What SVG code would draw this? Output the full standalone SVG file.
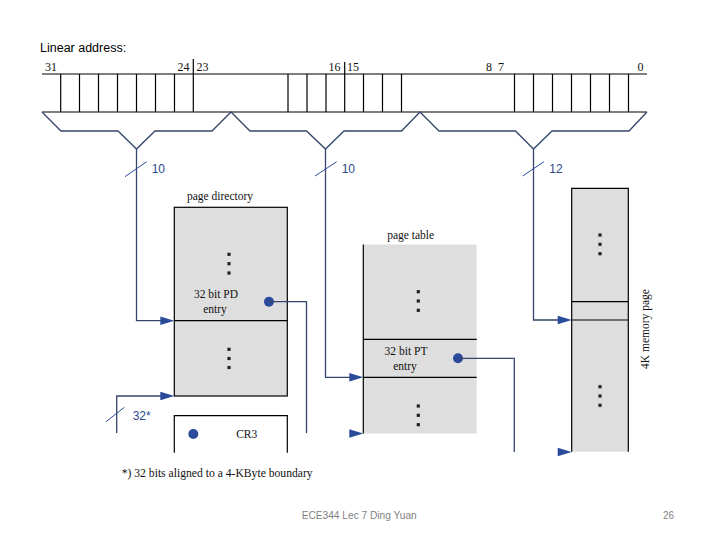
<svg xmlns="http://www.w3.org/2000/svg" width="720" height="540" viewBox="0 0 720 540">
<style>
.bit{stroke:#000;stroke-width:1.2;fill:none}
.con{stroke:#34466b;stroke-width:1.3;fill:none}
.tick{stroke:#2a4a9a;stroke-width:1;fill:none}
.box{stroke:#000;stroke-width:1.2}
.gray{fill:#dedede}
.ser{font-family:"Liberation Serif","Times New Roman",serif;font-size:11.5px;fill:#111}
.num{font-family:"Liberation Serif","Times New Roman",serif;font-size:12px;fill:#111}
.lab{font-family:"Liberation Sans",Arial,sans-serif;font-size:12px;fill:#2a4a8a}
.foot{font-family:"Liberation Sans",Arial,sans-serif;font-size:10px;fill:#7f7f7f}
.dot{fill:#222}
.pin{fill:#2a4a9a}
</style>
<defs>
<path id="ah" d="M-14,-4.2 L0,0 L-14,4.2 Z" fill="#2a4a9a"/>
<rect id="sq" x="-1.6" y="-1.6" width="3.2" height="3.2" fill="#222"/>
</defs>

<g id="title">
<text x="40" y="52" font-family="'Liberation Sans',Arial,sans-serif" font-size="12.5" fill="#000">Linear address:</text>
</g>

<g id="linear-address">
<path class="bit" d="M42,74 H647 M42,112 H647"/>
<path class="bit" d="M60.7,74V112 M79.5,74V112 M98.5,74V112 M117.5,74V112 M136.5,74V112 M155.5,74V112 M174.5,74V112 M193.3,59V112 M288,74V112 M307,74V112 M326,74V112 M344.7,62V112 M363.5,74V112 M382.5,74V112 M401.5,74V112 M514.5,74V112 M533.5,74V112 M552.5,74V112 M571.5,74V112 M590.5,74V112 M609.5,74V112 M628.5,74V112"/>
<text class="num" x="45" y="71">31</text>
<text class="num" x="177.5" y="71">24</text>
<text class="num" x="196.5" y="71">23</text>
<text class="num" x="328.5" y="71">16</text>
<text class="num" x="347" y="71">15</text>
<text class="num" x="486" y="71">8</text>
<text class="num" x="498" y="71">7</text>
<text class="num" x="637.5" y="71">0</text>
<path class="con" d="M42,112 L61,131 L118,131 L136.5,149 L155,131 L212,131 L231,112 L250,131 L306.5,131 L325.5,149 L344,131 L401.5,131 L420,112 L439,131 L515.5,131 L533.5,149 L552,131 L629,131 L647,112"/>
</g>

<g id="page-directory">
<text class="ser" x="220" y="200" text-anchor="middle">page directory</text>
<rect class="box gray" x="174.3" y="207.3" width="113" height="188.7"/>
<line class="box" x1="174.3" y1="320.7" x2="287.3" y2="320.7"/>
<use href="#sq" x="229" y="254.3"/><use href="#sq" x="229" y="263.7"/><use href="#sq" x="229" y="273"/>
<use href="#sq" x="229" y="349.3"/><use href="#sq" x="229" y="358.5"/><use href="#sq" x="229" y="367.5"/>
<text class="ser" x="216" y="298" text-anchor="middle">32 bit PD</text>
<text class="ser" x="215" y="313" text-anchor="middle">entry</text>
<circle class="pin" cx="269" cy="301.7" r="5"/>
</g>

<g id="cr3">
<rect x="174.3" y="415.7" width="113" height="37" fill="#fff"/>
<path class="box" fill="none" d="M174.3,452.7 V415.7 H287.3 V452.7"/>
<circle class="pin" cx="193.3" cy="434" r="5"/>
<text class="ser" x="246.7" y="438" text-anchor="middle">CR3</text>
</g>

<g id="page-table">
<text class="ser" x="410.7" y="238.5" text-anchor="middle">page table</text>
<rect class="gray" x="363.3" y="244.5" width="113.4" height="189"/>
<path class="box" fill="none" d="M363.3,244.5 V433.5 M363.3,339.3 H476.7 M363.3,377.3 H476.7"/>
<use href="#sq" x="418.3" y="291.7"/><use href="#sq" x="418.3" y="301"/><use href="#sq" x="418.3" y="310.3"/>
<use href="#sq" x="418.3" y="406"/><use href="#sq" x="418.3" y="415.3"/><use href="#sq" x="418.3" y="424.7"/>
<text class="ser" x="406" y="354.5" text-anchor="middle">32 bit PT</text>
<text class="ser" x="405" y="370" text-anchor="middle">entry</text>
<circle class="pin" cx="458" cy="358.3" r="5"/>
</g>

<g id="memory-page">
<rect class="gray" x="571.7" y="188.3" width="56.6" height="263.4"/>
<path class="box" fill="none" d="M571.7,451.7 V188.3 H628.3 V451.7 M571.7,301.7 H628.3 M571.7,320 H628.3"/>
<use href="#sq" x="600" y="235"/><use href="#sq" x="600" y="244.3"/><use href="#sq" x="600" y="253.7"/>
<use href="#sq" x="600" y="386.7"/><use href="#sq" x="600" y="396"/><use href="#sq" x="600" y="405.3"/>
<text class="ser" transform="translate(648.5,329) rotate(-90)" text-anchor="middle">4K memory page</text>
</g>

<g id="connectors">
<path class="con" d="M136.5,149 V320.7 H162"/>
<path class="con" d="M325.5,149 V377.3 H351"/>
<path class="con" d="M533.5,149 V320 H559"/>
<path class="con" d="M116.7,433 V396 H162"/>
<path class="con" d="M269,301.7 H306.5 V433"/>
<path class="con" d="M458,358.3 H514.3 V452"/>
<use href="#ah" x="174.3" y="320.7"/>
<use href="#ah" x="363.3" y="377.3"/>
<use href="#ah" x="571.7" y="320"/>
<use href="#ah" x="174.3" y="396"/>
<use href="#ah" x="363.3" y="433.5"/>
<use href="#ah" x="571.7" y="452"/>
<path class="tick" d="M125,176.7 L146.7,161.7 M315,176 L336.7,161.7 M522.7,176 L544,161.7 M106,421.7 L124.3,407.3"/>
<text class="lab" x="151.7" y="172.5">10</text>
<text class="lab" x="341.7" y="172.5">10</text>
<text class="lab" x="549.3" y="172.5">12</text>
<text class="lab" x="132.7" y="420">32*</text>
</g>

<g id="footnote">
<text class="ser" x="121.7" y="476.5" textLength="191" lengthAdjust="spacingAndGlyphs">*) 32 bits aligned to a 4-KByte boundary</text>
</g>

<g id="footer">
<text class="foot" x="301.7" y="519" textLength="115" lengthAdjust="spacingAndGlyphs">ECE344 Lec 7 Ding Yuan</text>
<text class="foot" x="663" y="519">26</text>
</g>
</svg>
